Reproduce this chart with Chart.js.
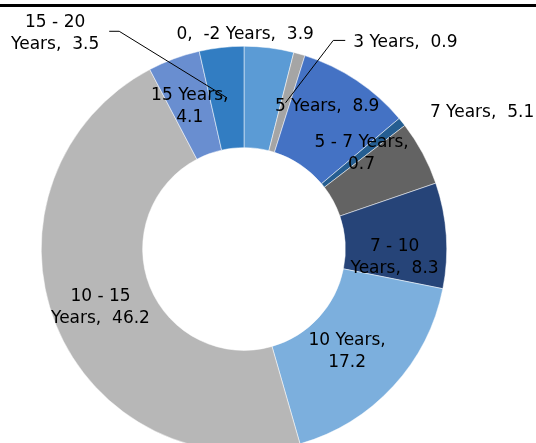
<!DOCTYPE html>
<html>
<head>
<meta charset="utf-8">
<script src="https://cdn.jsdelivr.net/npm/chart.js@4"></script>
<style>
    body { margin: 0; background: #fff; overflow: hidden; }
    #wrap { position: relative; width: 536px; height: 460px; }
    #topRule { position: absolute; left: 0; top: 4px; width: 536px; height: 3px; background: #000; }
</style>
</head>
<body>
<div id="wrap">
    <div id="topRule"></div>
    <canvas id="maturityChart"></canvas>
</div>
<script>
// Maturity buckets, clockwise from 12 o'clock
const categories = ['0,  -2 Years', '3 Years', '5 Years', '5 - 7 Years', '7 Years',
    '7 - 10 Years', '10 Years', '10 - 15 Years', '15 Years', '15 - 20 Years'];
const shares = [3.9, 0.9, 8.9, 0.7, 5.1, 8.3, 17.2, 46.2, 4.1, 3.5];
const sliceColors = ['#5b9bd5', '#a5a5a5', '#4472c4', '#255e91', '#636363',
    '#264478', '#7cafdd', '#b7b7b7', '#698ed0', '#327dc2'];

// label placement: [angle in degrees clockwise from top, radius as fraction of outer radius]
const labelPos = [[0.3, 1.06], [38, 1.293], [30.3, 0.814], [51, 0.746], [60.2, 1.353],
    [93.4, 0.744], [134.9, 0.718], [247.9, 0.764], [339.1, 0.75], [318.8, 1.414]];
// 0 = one line, 1 = value on second line, 2 = "Years" on second line
const labelWrap = [0, 0, 0, 1, 0, 2, 1, 2, 1, 2];
const leaderFor = [1, 9];

const FONT = '17px "DejaVu Sans", sans-serif';
const LINE_H = 22;

function labelLines(i) {
    const cat = categories[i];
    const val = shares[i].toFixed(1);
    if (labelWrap[i] === 1) return [cat + ',', val];
    if (labelWrap[i] === 2) {
        const k = cat.indexOf('Years');
        return [cat.slice(0, k).trim(), 'Years,  ' + val];
    }
    return [cat + ',  ' + val];
}

const sliceLabels = {
    id: 'sliceLabels',
    afterDatasetsDraw(chart) {
        const ctx = chart.ctx;
        const arcs = chart.getDatasetMeta(0).data;
        const cx = arcs[0].x, cy = arcs[0].y, R = arcs[0].outerRadius;
        ctx.save();
        ctx.font = FONT;
        ctx.fillStyle = '#000';
        ctx.textAlign = 'center';
        ctx.textBaseline = 'middle';
        arcs.forEach((arc, i) => {
            const a = labelPos[i][0] * Math.PI / 180;
            const x = cx + labelPos[i][1] * R * Math.sin(a);
            const y = cy - labelPos[i][1] * R * Math.cos(a);
            const lines = labelLines(i);
            const y0 = y - (lines.length - 1) * LINE_H / 2;
            lines.forEach((t, j) => ctx.fillText(t, x, y0 + j * LINE_H));

            if (leaderFor.includes(i)) {
                const w = Math.max(...lines.map(t => ctx.measureText(t).width));
                const mid = arc.getCenterPoint();
                const right = x > cx;
                const sx = right ? x - w / 2 - 8 : x + w / 2 + 10;
                const ex = right ? sx - 12 : sx + 10;
                ctx.beginPath();
                ctx.strokeStyle = '#000';
                ctx.lineWidth = 1;
                ctx.moveTo(sx, y - 2);
                ctx.lineTo(ex, y - 2);
                ctx.lineTo(mid.x, mid.y);
                ctx.stroke();
            }
        });
        ctx.restore();
    }
};

document.addEventListener('DOMContentLoaded', function() {
    const ctx = document.getElementById('maturityChart').getContext('2d');
    new Chart(ctx, {
        type: 'doughnut',
        data: {
            labels: categories,
            datasets: [{
                data: shares,
                backgroundColor: sliceColors,
                borderColor: '#ffffff',
                borderWidth: 0.5,
                hoverOffset: 0
            }]
        },
        options: {
            responsive: true,
            maintainAspectRatio: false,
            animation: false,
            cutout: '50%',
            layout: {
                padding: { left: 41, right: 89, top: 46, bottom: 8 }
            },
            plugins: {
                legend: { display: false },
                tooltip: { enabled: false }
            }
        },
        plugins: [sliceLabels]
    });
});
</script>
</body>
</html>
